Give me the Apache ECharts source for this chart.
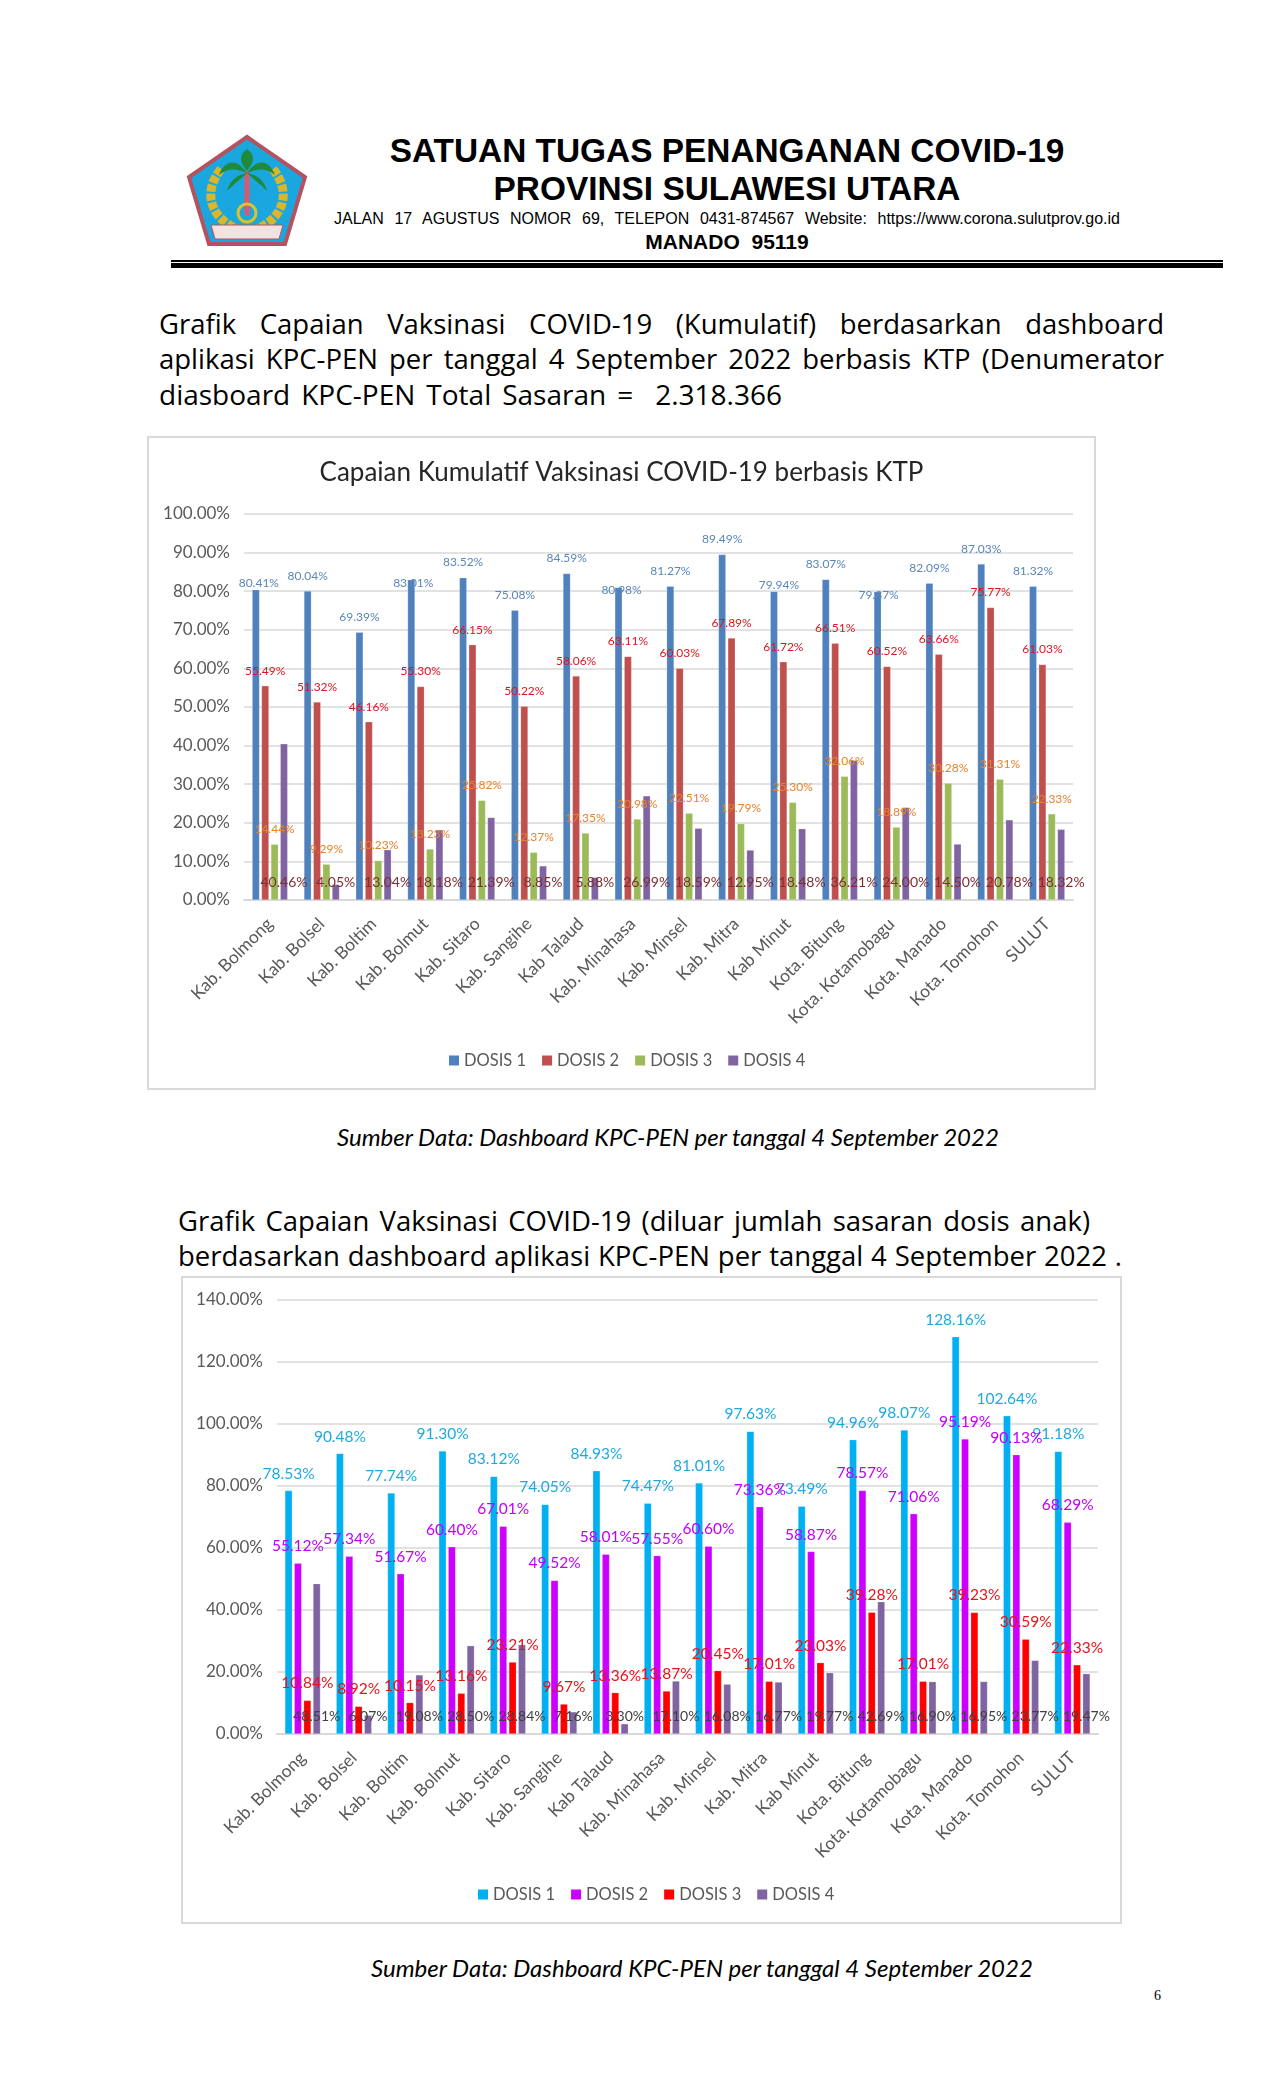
<!DOCTYPE html>
<html><head><meta charset="utf-8">
<script src="https://cdn.jsdelivr.net/npm/echarts@6/dist/echarts.min.js"></script>
<style>
html,body{margin:0;padding:0;background:#fff;width:1275px;height:2100px;overflow:hidden}
.t{position:absolute;white-space:nowrap;color:#000}
.j{white-space:normal;text-align:justify;text-align-last:justify}
.c{transform:translateX(-50%);font-family:"Liberation Sans",Arial,sans-serif}
.p{font-family:"Open Sans",sans-serif;font-size:27.5px;line-height:36px}
.s{font-family:Lato,sans-serif;font-style:italic;font-size:24px;line-height:28px}
.box{position:absolute;border:2px solid #d9d9d9;box-sizing:border-box}
.chart{position:absolute}
</style></head><body>
<svg style="position:absolute;left:185px;top:133px" width="124" height="116" viewBox="0 0 124 116">
<path d="M62 4 L120 44 L100 111 L24 111 L4 44 Z" fill="#1aa7e0" stroke="#b5525f" stroke-width="4"/>
<path d="M36 36 C18 58 24 84 52 96" fill="none" stroke="#d9b62c" stroke-width="9" stroke-dasharray="7 2"/>
<path d="M88 36 C106 58 100 84 72 96" fill="none" stroke="#d9b62c" stroke-width="9" stroke-dasharray="7 2"/>
<rect x="59.5" y="38" width="5" height="44" fill="#d85a6c"/>
<path d="M62 40 C50 22 38 30 34 42 C44 34 52 36 62 40 C72 36 80 34 90 42 C86 30 74 22 62 40 Z" fill="#1e8a3c"/>
<path d="M62 38 C54 28 54 22 62 16 C70 22 70 28 62 38 Z M62 40 C50 42 44 50 42 58 C50 50 56 46 62 40 C68 46 74 50 82 58 C80 50 74 42 62 40 Z" fill="#1e8a3c"/>
<circle cx="62" cy="80" r="9" fill="none" stroke="#e0c030" stroke-width="3"/>
<path d="M26 92 L98 92 L94 106 L30 106 Z" fill="#f3e3e0" stroke="#b5525f" stroke-width="1"/>
</svg>
<div class="t c" style="left:727px;top:132px;font-size:33.4px;font-weight:700;line-height:38px">SATUAN TUGAS PENANGANAN COVID-19</div>
<div class="t c" style="left:727px;top:170px;font-size:33.4px;font-weight:700;line-height:38px">PROVINSI SULAWESI UTARA</div>
<div class="t" style="left:334px;top:209px;width:786px;font-family:'Liberation Sans',Arial,sans-serif;font-size:16px;line-height:20px;text-align:justify;text-align-last:justify;white-space:normal;word-spacing:1px">JALAN 17 AGUSTUS NOMOR 69, TELEPON 0431-874567 Website: https://www.corona.sulutprov.go.id</div>
<div class="t c" style="left:727px;top:231px;font-size:21px;font-weight:700;line-height:22px">MANADO&nbsp; 95119</div>
<div style="position:absolute;left:171px;top:260px;width:1052px;height:2px;background:#000"></div>
<div style="position:absolute;left:171px;top:263px;width:1052px;height:5px;background:#000"></div>
<div class="t p j" style="left:159px;top:306px;width:1005px">Grafik Capaian Vaksinasi COVID-19 (Kumulatif) berdasarkan dashboard</div>
<div class="t p j" style="left:159px;top:341px;width:1005px">aplikasi KPC-PEN per tanggal 4 September 2022 berbasis KTP (Denumerator</div>
<div class="t p j" style="left:159px;top:376px;width:623px;font-size:28px">diasboard KPC-PEN Total Sasaran =&nbsp; 2.318.366</div>
<div class="box" style="left:147px;top:436px;width:949px;height:654px"></div>
<div id="c1" class="chart" style="left:147px;top:436px;width:949px;height:654px"></div>
<div class="t s" style="left:337px;top:1123px">Sumber Data: Dashboard KPC-PEN per tanggal 4 September 2022</div>
<div class="t p j" style="left:178px;top:1203px;width:912px">Grafik Capaian Vaksinasi COVID-19 (diluar jumlah sasaran dosis anak)</div>
<div class="t p j" style="left:178px;top:1238px;width:944px">berdasarkan dashboard aplikasi KPC-PEN per tanggal 4 September 2022 .</div>
<div class="box" style="left:181px;top:1276px;width:941px;height:648px"></div>
<div id="c2" class="chart" style="left:181px;top:1276px;width:941px;height:648px"></div>
<div class="t s" style="left:371px;top:1954px">Sumber Data: Dashboard KPC-PEN per tanggal 4 September 2022</div>
<div class="t" style="left:1154px;top:1988px;font-family:'Liberation Serif',serif;font-size:14px">6</div>
<script>
var categories = ["Kab. Bolmong","Kab. Bolsel","Kab. Boltim","Kab. Bolmut","Kab. Sitaro","Kab. Sangihe","Kab Talaud","Kab. Minahasa","Kab. Minsel","Kab. Mitra","Kab Minut","Kota. Bitung","Kota. Kotamobagu","Kota. Manado","Kota. Tomohon","SULUT"];
var seriesNames = ["DOSIS 1","DOSIS 2","DOSIS 3","DOSIS 4"];
var ktpDosis1 = [80.41,80.04,69.39,83.01,83.52,75.08,84.59,80.98,81.27,89.49,79.94,83.07,79.87,82.09,87.03,81.32];
var ktpDosis2 = [55.49,51.32,46.16,55.30,66.15,50.22,58.06,63.11,60.03,67.89,61.72,66.51,60.52,63.66,75.77,61.03];
var ktpDosis3 = [14.44,9.29,10.23,13.23,25.82,12.37,17.35,20.98,22.51,19.79,25.30,32.06,18.89,30.28,31.31,22.33];
var ktpDosis4 = [40.46,4.05,13.04,18.18,21.39,8.85,5.88,26.99,18.59,12.95,18.48,36.21,24.00,14.50,20.78,18.32];
var anakDosis1 = [78.53,90.48,77.74,91.30,83.12,74.05,84.93,74.47,81.01,97.63,73.49,94.96,98.07,128.16,102.64,91.18];
var anakDosis2 = [55.12,57.34,51.67,60.40,67.01,49.52,58.01,57.55,60.60,73.36,58.87,78.57,71.06,95.19,90.13,68.29];
var anakDosis3 = [10.84,8.92,10.15,13.16,23.21,9.67,13.36,13.87,20.45,17.01,23.03,39.28,17.01,39.23,30.59,22.33];
var anakDosis4 = [48.51,6.07,19.08,28.50,28.84,7.16,3.30,17.10,16.08,16.77,19.77,42.69,16.90,16.95,23.77,19.47];

// hand-moved data labels in the first chart: point index -> [dx, dy]
var moved = {0:[3,9],3:[2,19],7:[3,18],10:[5,9],12:[1,18]};

function pct(v){ return v.toFixed(2) + '%'; }
function build(cfg){
  var series = cfg.values.map(function(vals, i){
    var last = i === 3;
    return {
      name: seriesNames[i], type:'bar', barWidth:7.5, barGap:'25%',
      itemStyle:{color:cfg.colors[i], borderColor:'rgba(255,255,255,0.35)', borderWidth:0.6},
      label:{show:true, position: last ? 'insideBottom' : 'top', distance: last ? cfg.lastDist : cfg.dist,
        color:cfg.labelColors[i], fontFamily:'Lato', fontSize: last ? 14 : cfg.labelSize,
        textBorderWidth:0, formatter:function(p){return pct(p.value);}},
      data: vals.map(function(v, k){
        if (i === 0 && cfg.moved && cfg.moved[k]) return {value:v, label:{offset:cfg.moved[k]}};
        return v;
      })
    };
  });
  return {
    animation:false,
    title: cfg.title ? {text:cfg.title, left:'center', top:cfg.titleTop,
      textStyle:{fontFamily:'Lato', fontWeight:'normal', fontSize:26, color:'#262626'}} : undefined,
    legend:{data:seriesNames, top:cfg.legendTop, left:cfg.legendLeft, icon:'rect', itemWidth:10, itemHeight:10, itemGap:16, itemStyle:{borderWidth:0},
      textStyle:{fontFamily:'Lato', fontSize:16.5, color:'#595959'}},
    grid:{left:cfg.grid[0], top:cfg.grid[1], width:cfg.grid[2], height:cfg.grid[3], containLabel:false},
    xAxis:{type:'category', data:categories, boundaryGap:true,
      axisTick:{show:false}, axisLine:{lineStyle:{color:'#d9d9d9', width:2}},
      axisLabel:{rotate:45, interval:0, margin:21, fontFamily:'Lato', fontSize:17.5, color:'#595959'}},
    yAxis:{type:'value', min:0, max:cfg.max, interval:cfg.step,
      axisLine:{show:false}, axisTick:{show:false},
      splitLine:{lineStyle:{color:'#d9d9d9', width:1.6}},
      axisLabel:{margin:14, fontFamily:'Lato', fontSize:17, color:'#595959', padding:[3,0,0,0], formatter:pct}},
    series: series
  };
}
echarts.init(document.getElementById('c1')).setOption(build({
  title:'Capaian Kumulatif Vaksinasi COVID-19 berbasis KTP', titleTop:19,
  values:[ktpDosis1,ktpDosis2,ktpDosis3,ktpDosis4],
  colors:['#4f81bd','#c0504d','#9bbb59','#8064a2'],
  labelColors:['#5a86b8','#e0141e','#e5822c','#7d2f33'],
  labelSize:12, dist:9, lastDist:11, moved:moved,
  grid:[97,78,829,386], max:100, step:10, legendTop:611, legendLeft:297
}));
echarts.init(document.getElementById('c2')).setOption(build({
  values:[anakDosis1,anakDosis2,anakDosis3,anakDosis4],
  colors:['#00b0f0','#cc00ff','#ff0000','#8064a2'],
  labelColors:['#1fa9e0','#c000ff','#e8121c','#404040'],
  labelSize:15.5, dist:9, lastDist:11,
  grid:[96,24,821,434], max:140, step:20, legendTop:605, legendLeft:292
}));
</script>
</body></html>
